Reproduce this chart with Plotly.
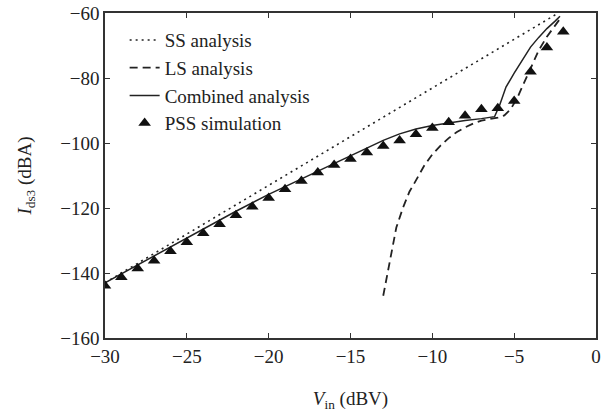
import plotly.graph_objects as go

# SS analysis (small-signal, straight 3:1 line)
ss_x = [-30, -2.3]
ss_y = [-143, -60]

# LS analysis (large-signal)
ls_x = [-13, -12.6, -12.2, -11.8, -11.4, -11, -10.5, -10, -9.5, -9, -8.5, -8, -7.5, -7,
        -6.5, -6, -5.6, -5.2, -4.8, -4.4, -4, -3.5, -3, -2.5, -2.2]
ls_y = [-147, -136, -126, -120, -115, -111.5, -107, -103.5, -100.8, -98.5, -96.6, -95.2, -94, -93.1,
        -92.6, -92.2, -91.5, -89.5, -86, -81.5, -77, -71.5, -67.3, -63.8, -61.8]

# Combined analysis
cb_x = [-30, -28, -26, -24, -22, -20, -18, -16, -14, -13, -12, -11, -10, -9, -8, -7,
        -6.2, -5.9, -5.5, -5, -4.5, -4, -3.5, -3, -2.5, -2.2]
cb_y = [-143, -137.5, -132, -126.5, -121, -115.8, -111, -106.3, -101.6, -99.2, -97.2, -95.7,
        -94.6, -93.8, -93.1, -92.5, -91.9, -88.5, -82.8, -78.5, -74.5, -70.5, -67.5, -64.8, -62.5, -61]

# PSS simulation
pss_x = list(range(-30, -1))
pss_y = [-143.9, -141.3, -138.6, -136.2, -133.3, -130.5, -127.8, -125, -122.2, -119.6,
         -116.9, -114.2, -111.7, -109.1, -106.8, -104.9, -102.9, -100.9, -99.2, -97.3,
         -95.4, -93.6, -91.6, -89.6, -89.3, -87.1, -78.1, -70.6, -65.8]

x_ticks = [-30, -25, -20, -15, -10, -5, 0]
y_ticks = [-160, -140, -120, -100, -80, -60]

FONT = "Liberation Serif"
fig = go.Figure()
fig.add_trace(go.Scatter(x=ss_x, y=ss_y, mode="lines", name="SS analysis",
                         line=dict(color="#222", width=1.6, dash="2px,4px")))
fig.add_trace(go.Scatter(x=ls_x, y=ls_y, mode="lines", name="LS analysis",
                         line=dict(color="#222", width=1.8, dash="8px,5px")))
fig.add_trace(go.Scatter(x=cb_x, y=cb_y, mode="lines", name="Combined analysis",
                         line=dict(color="#222", width=1.5)))
fig.add_trace(go.Scatter(x=pss_x, y=pss_y, mode="markers", name="PSS simulation",
                         marker=dict(symbol="triangle-up", size=11, color="#111")))

axis_common = dict(showgrid=False, zeroline=False, showline=True, linecolor="#333", linewidth=1.5,
                   mirror="ticks", ticks="inside", ticklen=5, tickcolor="#333", tickwidth=1,
                   automargin=False,
                   tickfont=dict(family=FONT, size=19, color="#222"))
fig.update_xaxes(range=[-30, 0], tickvals=x_ticks,
                 title=dict(text="<i>V</i><sub>in</sub> (dBV)", font=dict(family=FONT, size=19, color="#222"), standoff=26),
                 **axis_common)
fig.update_yaxes(range=[-160, -60], tickvals=y_ticks,
                 title=dict(text="<i>I</i><sub>ds3</sub> (dBA)", font=dict(family=FONT, size=19, color="#222"), standoff=24),
                 **axis_common)
fig.update_layout(width=608, height=415, margin=dict(l=105, r=12, t=13, b=77),
                  paper_bgcolor="white", plot_bgcolor="white",
                  legend=dict(x=0.04, y=0.975, xanchor="left", yanchor="top", itemwidth=30,
                              bgcolor="rgba(0,0,0,0)", font=dict(family=FONT, size=19, color="#222")),
                  font=dict(family=FONT))
fig.write_html("out.html")
